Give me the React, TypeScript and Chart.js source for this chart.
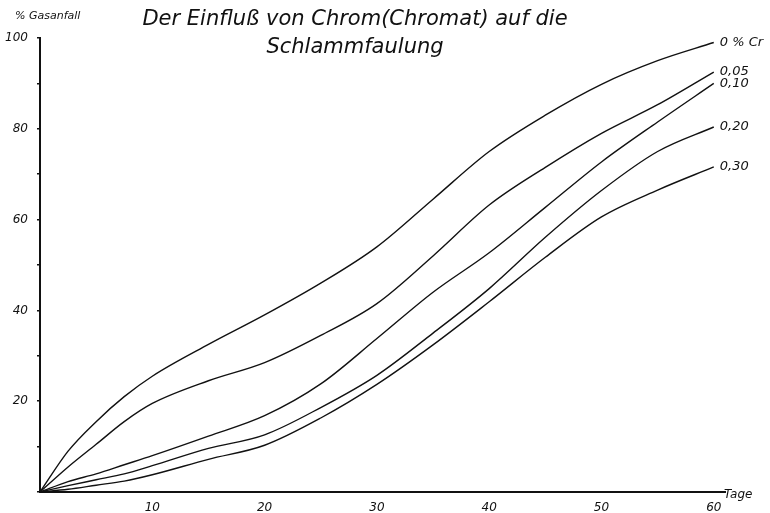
import React, { useEffect, useRef } from 'react';
import { Chart, registerables } from 'chart.js';

Chart.register(...registerables);

const days = [0, 2.5, 5, 7.5, 10, 15, 20, 25, 30, 35, 40, 45, 50, 55, 60];
const cr000 = [0, 9, 15.5, 21, 25.5, 32.5, 39, 46, 54, 64.5, 75, 83, 89.8, 95, 99];
const cr005 = [0, 5.5, 10.5, 15.5, 19.5, 24.5, 28.5, 34.5, 41.5, 52, 63.2, 71.5, 79, 85.3, 92.5];
const cr010 = [0, 2.3, 4, 6, 8, 12.3, 16.8, 23.8, 33.8, 44, 52.7, 62.7, 72.7, 81.5, 90];
const cr020 = [0, 1.4, 2.7, 4, 5.8, 9.6, 12.6, 18.6, 25.7, 35, 44.8, 56.1, 66.4, 75, 80.4];
const cr030 = [0, 0.6, 1.5, 2.4, 3.8, 7.2, 10.3, 16.3, 23.7, 32.4, 41.9, 51.7, 60.6, 66.5, 71.6];
const seriesLabels = ['0 % Cr', '0,05', '0,10', '0,20', '0,30'];
const seriesValues = [cr000, cr005, cr010, cr020, cr030];
const xTickValues = [10, 20, 30, 40, 50, 60];
const titleLines = ['Der Einfluß von Chrom(Chromat) auf die', 'Schlammfaulung'];
const yAxisName = '% Gasanfall';
const xAxisName = 'Tage';

const FONT = '"DejaVu Sans"';

const annotate = {
  id: 'annotate',
  afterDraw(chart: any) {
    const ctx = chart.ctx;
    ctx.save();
    ctx.fillStyle = '#111';
    // title
    ctx.font = `italic 21px ${FONT}`;
    ctx.textAlign = 'center';
    ctx.textBaseline = 'middle';
    ctx.fillText(titleLines[0], 355, 20);
    ctx.fillText(titleLines[1], 355, 48);
    // axis names
    ctx.font = `italic 11px ${FONT}`;
    ctx.textAlign = 'left';
    ctx.fillText(yAxisName, 15, 16);
    ctx.font = `italic 12px ${FONT}`;
    ctx.fillText(xAxisName, 724, 495);
    // series labels at line ends
    ctx.font = `italic 13px ${FONT}`;
    chart.data.datasets.forEach((ds: any, i: number) => {
      const meta = chart.getDatasetMeta(i);
      const last = meta.data[meta.data.length - 1];
      if (!last) return;
      ctx.fillText(ds.label, last.x + 6, last.y);
    });
    ctx.restore();
  },
};

export default function App() {
  const ref = useRef<HTMLCanvasElement | null>(null);
  useEffect(() => {
    if (!ref.current) return;
    const chart = new Chart(ref.current, {
      type: 'line',
      data: {
        datasets: seriesValues.map((vals, i) => ({
          label: seriesLabels[i],
          data: days.map((d, j) => ({ x: d, y: vals[j] })),
          borderColor: '#111',
          borderWidth: 1.4,
          pointRadius: 0,
          fill: false,
          cubicInterpolationMode: 'monotone' as const,
          clip: false as any,
        })),
      },
      options: {
        animation: false,
        responsive: false,
        devicePixelRatio: 1,
        layout: { padding: { left: 0, top: 38, right: 45, bottom: 0 } },
        plugins: { legend: { display: false }, tooltip: { enabled: false }, title: { display: false } },
        scales: {
          x: {
            type: 'linear',
            min: 0,
            max: 61,
            afterFit: (s: any) => { s.height = 21; },
            afterBuildTicks: (s: any) => {
              s.ticks = xTickValues.map((v) => ({ value: v }));
            },
            grid: { display: false },
            border: { display: true, color: '#111', width: 2 },
            ticks: {
              autoSkip: false,
              maxRotation: 0,
              padding: 1,
              color: '#111',
              font: { family: 'DejaVu Sans', style: 'italic', size: 12 },
              callback: (v: any) => String(v),
            },
          },
          y: {
            type: 'linear',
            min: 0,
            max: 100,
            afterFit: (s: any) => { s.width = 40; },
            grid: {
              display: true,
              drawOnChartArea: false,
              drawTicks: true,
              tickLength: 3,
              color: '#111',
              lineWidth: 1.5,
            },
            border: { display: true, color: '#111', width: 2 },
            ticks: {
              stepSize: 10,
              autoSkip: false,
              padding: 9,
              color: '#111',
              font: { family: 'DejaVu Sans', style: 'italic', size: 12 },
              callback: (v: any) => (v % 20 === 0 && v > 0 ? String(v) : ''),
            },
          },
        },
      },
      plugins: [annotate],
    });
    return () => chart.destroy();
  }, []);
  return (
    <div style={{ position: 'absolute', left: 0, top: 0, width: 770, height: 513, background: '#fff' }}>
      <canvas ref={ref} width={770} height={513} style={{ width: 770, height: 513 }} />
    </div>
  );
}
